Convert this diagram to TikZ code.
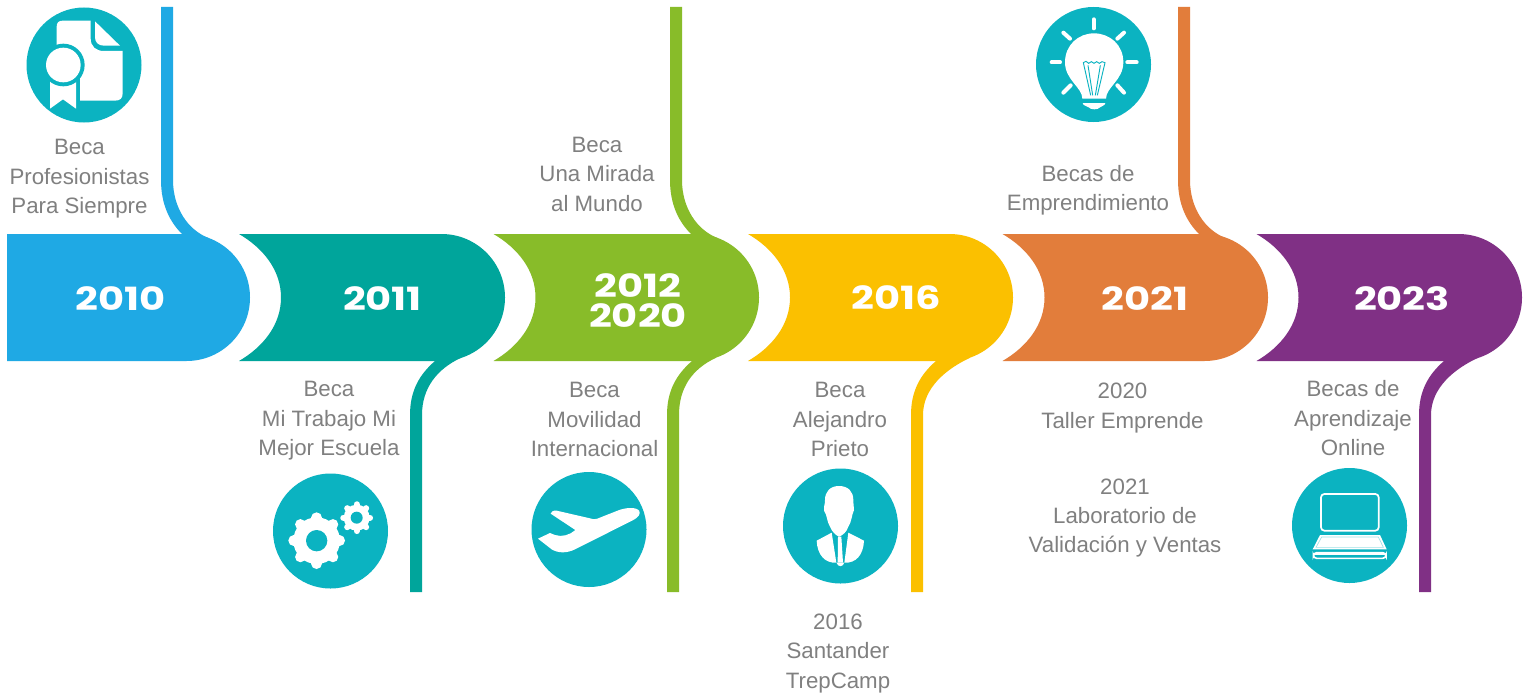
\documentclass[tikz,border=0pt]{standalone}
\usepackage{fontspec}
\setmainfont{Liberation Sans}
\newfontfamily\yearfont[FakeStretch=1.25]{Poppins}
\definecolor{cblue}{HTML}{1FA9E4}
\definecolor{cteal}{HTML}{00A59B}
\definecolor{cgreen}{HTML}{88BC29}
\definecolor{cyellow}{HTML}{FBC000}
\definecolor{corange}{HTML}{E27D3B}
\definecolor{cpurple}{HTML}{803085}
\definecolor{ccirc}{HTML}{0BB3C1}
\definecolor{ctext}{HTML}{808080}
\tikzset{
  label text/.style={text=ctext,align=center,inner sep=0pt,font=\fontsize{16.7}{22.1}\selectfont},
  year text/.style={text=white,inner sep=0pt,font=\fontsize{24}{24}\yearfont\bfseries},
  icon disc/.style={fill=ccirc,draw=none,circle,minimum size=86.25pt,inner sep=0pt},
  icon/.style={shift={(#1)},x=0.25pt,y=-0.25pt},
}
% colour, left tip x, cap centre x
\newcommand\yearband[3]{%
  \fill[#1] (#2,234) -- (#3,234)
    .. controls (#3+35.1,234) and (#3+63.5,262.4) .. (#3+63.5,297.5)
    .. controls (#3+63.5,332.6) and (#3+35.1,361) .. (#3,361)
    -- (#2,361)
    .. controls (#2+24,347) and (#2+42,325) .. (#2+42,297.5)
    .. controls (#2+42,270) and (#2+24,248) .. (#2,234) -- cycle;}
% colour, left edge x
\newcommand\topstrip[2]{%
  \fill[#1] (#2,7) -- (#2+12,7) -- (#2+12,180)
    .. controls (#2+12,208) and (#2+27,230) .. (#2+47.5,238)
    -- (#2+47.5,250) -- (#2+21,250) -- (#2+21,234)
    .. controls (#2+9,222) and (#2,205) .. (#2,180) -- cycle;}
% colour, left edge x, end x on the cap
\newcommand\bottomstrip[3]{%
  \fill[#1] (#2,592) -- (#2+12,592) -- (#2+12,415)
    .. controls (#2+12,388) and (#3-24,369) .. (#3,357.8)
    -- (#3,350) -- (#2+25,350) -- (#2+25,361)
    .. controls (#2+10,374) and (#2,390) .. (#2,415) -- cycle;}
\begin{document}
\begin{tikzpicture}[x=0.75pt,y=-0.75pt]
\useasboundingbox (0,0) rectangle (1530,692);
\fill[white] (0,0) rectangle (1530,692);

% bands
\fill[cblue] (7,234) -- (186.5,234)
    .. controls (221.6,234) and (250,262.4) .. (250,297.5)
    .. controls (250,332.6) and (221.6,361) .. (186.5,361) -- (7,361) -- cycle;
\yearband{cteal}{239}{441.5}
\yearband{cgreen}{493.5}{695.5}
\yearband{cyellow}{748}{949.5}
\yearband{corange}{1002.5}{1204.5}
\yearband{cpurple}{1256.5}{1458.5}

% strips
\topstrip{cblue}{161}
\topstrip{cgreen}{670}
\topstrip{corange}{1178}
\bottomstrip{cteal}{410}{461}
\bottomstrip{cgreen}{667}{716}
\bottomstrip{cyellow}{911}{970}
\bottomstrip{cpurple}{1419}{1478}

% years
\node[year text] (y2010) at (120.5,299) {2010};
\node[year text] (y2011) at (382.5,299) {2011};
\node[year text] (y2012) at (638,286) {2012};
\node[year text] (y2020) at (638,316) {2020};
\node[year text] (y2016) at (896.5,298) {2016};
\node[year text] (y2021) at (1145,299) {2021};
\node[year text] (y2023) at (1402,299) {2023};

% labels
\node[label text] (t2010) at (79.5,179) {Beca\\Profesionistas\\Para Siempre};
\node[label text] (t2011) at (329,421) {Beca\\Mi Trabajo Mi\\Mejor Escuela};
\node[label text] (t2012a) at (597,174) {Beca\\Una Mirada\\al Mundo};
\node[label text] (t2012b) at (594.5,419.5) {Beca\\Movilidad\\Internacional};
\node[label text] (t2016a) at (840,419.5) {Beca\\Alejandro\\Prieto};
\node[label text] (t2016b) at (838,653.5) {2016\\Santander\\TrepCamp};
\node[label text] (t2021a) at (1088,190.5) {Becas de\\Emprendimiento};
\node[label text] (t2021b) at (1122.5,408) {2020\\Taller Emprende};
\node[label text] (t2021c) at (1125,518) {2021\\Laboratorio de\\Validación y Ventas};
\node[label text] (t2023) at (1353,418.5) {Becas de\\Aprendizaje\\Online};

% discs
\node[icon disc] (dDoc) at (84,65) {};
\node[icon disc] (dGear) at (330.5,531) {};
\node[icon disc] (dPlane) at (589,529.5) {};
\node[icon disc] (dMan) at (840.5,526) {};
\node[icon disc] (dBulb) at (1093.5,64.5) {};
\node[icon disc] (dLap) at (1349.5,525.5) {};

% certificate
\begin{scope}[icon={0,0}]
  \fill[white] (170,80) .. controls (170,68) and (176,62) .. (188,62)
    -- (272,62) -- (272,115) .. controls (272,140) and (288,153) .. (312,153)
    -- (368,153) -- (368,280) .. controls (368,295) and (360,302) .. (345,302)
    -- (240,302) -- (240,200) -- (170,150) -- cycle;
  \fill[white] (285,64) -- (360,137) -- (312,137) .. controls (295,137) and (285,127) .. (285,112) -- cycle;
  \fill[white] (150,240) -- (228,240) -- (228,326) -- (189,298) -- (150,326) -- cycle;
  \fill[ccirc] (190,195) circle [radius=64];
  \fill[white] (190,195) circle [radius=52];
\end{scope}

% gears
\begin{scope}[icon={250,350}]
  \begin{scope}[shift={(200,572)}]
    \foreach \a in {0,45,...,315}
      \draw[white,line width=8pt,line cap=round] (\a:60) -- (\a:69);
    \fill[white] (0,0) circle [radius=70];
    \fill[ccirc] (0,0) circle [radius=32];
  \end{scope}
  \begin{scope}[shift={(320,503)}]
    \foreach \a in {0,45,...,315}
      \draw[white,line width=4.6pt,line cap=round] (\a:30) -- (\a:40);
    \fill[white] (0,0) circle [radius=39];
    \fill[ccirc] (0,0) circle [radius=18];
  \end{scope}
\end{scope}

% plane
\begin{scope}[icon={510,350}]
  \fill[white] (388,483) .. controls (380,470) and (345,472) .. (320,483)
    -- (262,506) .. controls (255,509) and (248,508) .. (240,505)
    -- (140,482) .. controls (130,481) and (122,485) .. (122,491)
    -- (196,540) .. controls (180,555) and (155,562) .. (135,555)
    -- (120,549) -- (84,566) -- (125,598)
    .. controls (145,610) and (170,610) .. (195,598)
    -- (370,510) .. controls (385,502) and (392,492) .. (388,483) -- cycle;
\end{scope}

% man
\begin{scope}[icon={770,350}]
  \fill[white] (207,408) .. controls (180,408) and (165,425) .. (165,450)
    .. controls (165,465) and (160,470) .. (162,482)
    .. controls (172,495) and (170,515) .. (180,530)
    .. controls (186,545) and (196,555) .. (207,560)
    .. controls (220,555) and (230,545) .. (235,530)
    .. controls (245,515) and (245,495) .. (252,480)
    .. controls (252,470) and (250,465) .. (250,450)
    .. controls (250,425) and (235,408) .. (207,408) -- cycle;
  \fill[white] (140,572) -- (185,548) -- (199,638) .. controls (165,640) and (142,615) .. (140,572) -- cycle;
  \fill[white] (282,572) -- (235,548) -- (223,638) .. controls (258,640) and (280,615) .. (282,572) -- cycle;
  \fill[white] (204,560) -- (214,560) -- (219,638) -- (203,638) -- cycle;
  \fill[white] (199,638) .. controls (205,652) and (218,652) .. (223,638) -- cycle;
\end{scope}

% bulb
\begin{scope}[icon={1020,0}]
  \fill[white] (187,296) .. controls (187,262) and (135,240) .. (135,187)
    .. controls (135,135) and (175,100) .. (222,100)
    .. controls (270,100) and (310,135) .. (310,187)
    .. controls (310,240) and (258,262) .. (258,296) -- cycle;
  \fill[white] (188,309) -- (256,309) .. controls (256,316) and (245,318) .. (240,322)
    .. controls (234,330) and (212,330) .. (206,322) .. controls (200,318) and (188,316) .. (188,309) -- cycle;
  \draw[ccirc,line width=0.7pt] (212,286) -- (190,188) -- (198,184) -- (206,190) -- (214,185) -- (222,190) -- (230,185) -- (238,190) -- (246,185) -- (255,188) -- (232,286)
    (204,196) -- (218,286) (241,196) -- (226,286);
  \foreach \p/\q in {{221,58}/{221,85},{130,98}/{150,116},{312,98}/{292,116},{95,187}/{120,187},{322,187}/{350,187},{130,278}/{152,256},{312,278}/{292,256}}
    \draw[white,line width=3pt,line cap=round] (\p) -- (\q);
\end{scope}

% laptop
\begin{scope}[icon={1270,340}]
  \draw[white,line width=1.3pt,rounded corners=2.5pt] (153,462) rectangle (326,572);
  \fill[white] (150,585) -- (330,585) -- (350,628) -- (128,628) -- cycle;
  \draw[ccirc!40,line width=0.5pt] (155,591) -- (325,591) -- (340,622) -- (138,622) -- cycle;
  \draw[white,line width=1.2pt,rounded corners=2.5pt] (130,638) rectangle (348,655);
  \fill[white] (130,638) rectangle (348,646);
\end{scope}
\end{tikzpicture}
\end{document}
